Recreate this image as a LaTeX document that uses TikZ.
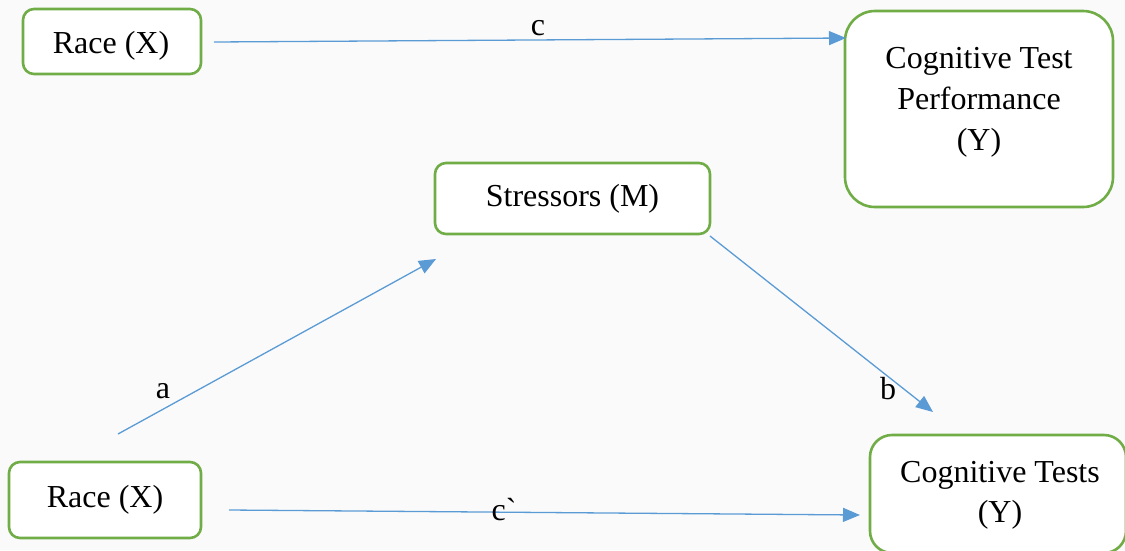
\documentclass[tikz,border=0pt]{standalone}
\usepackage{fontspec}
\setmainfont{Liberation Serif}
\newfontfamily\tnr{Liberation Serif}
\usetikzlibrary{arrows.meta}
\definecolor{boxgreen}{HTML}{70AD47}
\definecolor{arrblue}{HTML}{5B9BD5}
\definecolor{bg}{HTML}{FAFAFA}
\tikzset{
  txt/.style={font=\tnr\fontsize{32}{41}\selectfont, inner sep=0pt, align=center},
  gbox/.style={draw=boxgreen, line width=2.6pt, fill=white, rounded corners=11pt, inner sep=0pt},
  conn/.style={draw=arrblue, line width=1.3pt, -{Triangle[length=17pt,width=14pt]}},
  lbl/.style={font=\tnr\fontsize{32}{41}\selectfont, inner sep=0pt, anchor=base}
}
\begin{document}
\begin{tikzpicture}[x=1pt,y=-1pt]
\fill[bg] (0,0) rectangle (1125,550);
\useasboundingbox (0,0) rectangle (1125,550);

% boxes
\node[gbox, minimum width=178pt, minimum height=65pt] (rx1) at (112,41.5) {};
\node[txt, anchor=base] (rx1t) at (111,53) {Race (X)};

\node[gbox, rounded corners=30pt, minimum width=268pt, minimum height=196pt] (cgp) at (979,109) {};
\node[txt, anchor=base] (cgpt1) at (979,68) {Cognitive Test};
\node[txt, anchor=base] (cgpt2) at (979,109) {Performance};
\node[txt, anchor=base] (cgpt3) at (979,150) {(Y)};

\node[gbox, minimum width=275pt, minimum height=71pt] (st) at (572.5,198.5) {};
\node[txt, anchor=base] (stt) at (572.5,206) {Stressors (M)};

\node[gbox, minimum width=192pt, minimum height=76pt] (rx2) at (105,500) {};
\node[txt, anchor=base] (rx2t) at (105,507) {Race (X)};

\node[gbox, rounded corners=22pt, minimum width=256pt, minimum height=118pt] (ct) at (998,494) {};
\node[txt, anchor=base] (ctt1) at (1000,482) {Cognitive Tests};
\node[txt, anchor=base] (ctt2) at (1000,522) {(Y)};

% connector end points
\coordinate (cS) at (214,42);
\coordinate (cE) at (846,38);
\coordinate (aS) at (118,434);
\coordinate (aE) at (436,259);
\coordinate (bS) at (710,236);
\coordinate (bE) at (933,412);
\coordinate (dS) at (229,510);
\coordinate (dE) at (860,515);

\draw[conn] (cS) -- (cE);
\draw[conn] (aS) -- (aE);
\draw[conn] (bS) -- (bE);
\draw[conn] (dS) -- (dE);

% labels
\node[lbl] (lc) at (538,35) {c};
\node[lbl] (la) at (163,398) {a};
\node[lbl] (lb) at (888,399) {b};
\node[lbl] (ld) at (504,520) {c\textasciigrave};
\end{tikzpicture}
\end{document}
